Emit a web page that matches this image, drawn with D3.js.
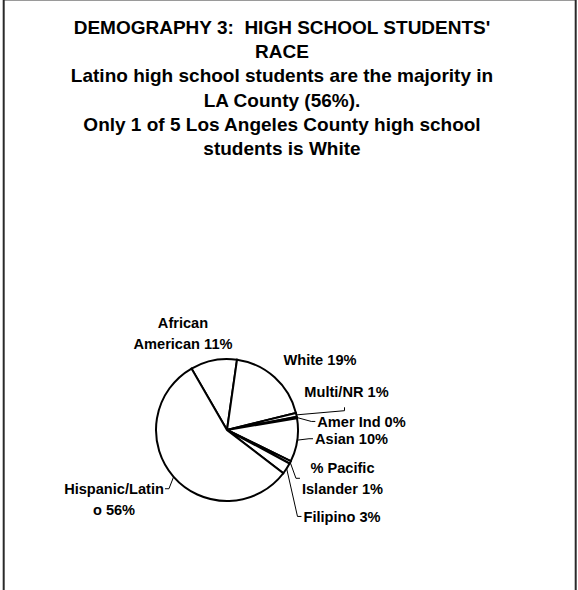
<!DOCTYPE html>
<html>
<head>
<meta charset="utf-8">
<script src="https://cdn.jsdelivr.net/npm/d3@7"></script>
<style>
  html, body { margin: 0; padding: 0; background: #fff; }
  svg { display: block; }
  text { font-family: "Liberation Sans", Arial, Helvetica, sans-serif; font-weight: bold; fill: #000; white-space: pre; }
</style>
</head>
<body>
<svg id="chart" width="578" height="590"></svg>
<script>
// ---- data ----
const titleLines = [
  "DEMOGRAPHY 3:  HIGH SCHOOL STUDENTS'",
  "RACE",
  "Latino high school students are the majority in",
  "LA County (56%).",
  "Only 1 of 5 Los Angeles County high school",
  "students is White"
];
const categories = ["African American", "White", "Multi/NR", "Amer Ind", "Asian",
                    "% Pacific Islander", "Filipino", "Hispanic/Latino"];
const values = [10.6, 18.9, 0.9, 0.3, 9.9, 0.6, 2.6, 56.3];
const labelLines = [
  ["African", "American 11%"],
  ["White 19%"],
  ["Multi/NR 1%"],
  ["Amer Ind 0%"],
  ["Asian 10%"],
  ["% Pacific", "Islander 1%"],
  ["Filipino 3%"],
  ["Hispanic/Latin", "o 56%"]
];

// ---- layout ----
const W = 578, H = 590;
const cx = 227, cy = 430, R = 71;
const firstSliceAngle = -30; // degrees, clockwise from 12 o'clock
const labelPos = [
  { x: 183,   y: 328,   leader: "none" },
  { x: 320,   y: 365,   leader: "none" },
  { x: 346.5, y: 397.3, leader: "below" },
  { x: 361.5, y: 426.7, leader: "left" },
  { x: 351.5, y: 444,   leader: "left" },
  { x: 342.5, y: 473.3, leader: "left" },
  { x: 342,   y: 521.7, leader: "left" },
  { x: 114,   y: 494,   leader: "right" }
];
const labelSize = 14.6, labelLH = 20.5;

const svg = d3.select("#chart");

// frame
svg.append("line").attr("x1", 3).attr("x2", 576).attr("y1", 0.5).attr("y2", 0.5)
  .attr("stroke", "#9a9a9a").attr("stroke-width", 1);
svg.append("line").attr("x1", 3.7).attr("x2", 3.7).attr("y1", 0).attr("y2", H)
  .attr("stroke", "#2a2a2a").attr("stroke-width", 2);
svg.append("line").attr("x1", 575.7).attr("x2", 575.7).attr("y1", 0).attr("y2", H)
  .attr("stroke", "#2a2a2a").attr("stroke-width", 2);

// title
const title = svg.append("text").attr("text-anchor", "middle")
  .attr("xml:space", "preserve")
  .style("font-size", "19px");
title.selectAll("tspan").data(titleLines).join("tspan")
  .attr("x", 282).attr("y", (d, i) => 34 + i * 24.2)
  .text(d => d);

// pie
const data = categories.map((c, i) => ({ name: c, value: values[i], lines: labelLines[i], pos: labelPos[i] }));
const rad = a => a * Math.PI / 180;
const pie = d3.pie().sort(null).value(d => d.value)
  .startAngle(rad(firstSliceAngle)).endAngle(rad(firstSliceAngle + 360));
const arcs = pie(data);
const arc = d3.arc().innerRadius(0).outerRadius(R);

const g = svg.append("g").attr("transform", `translate(${cx},${cy})`);
g.selectAll("path").data(arcs).join("path")
  .attr("d", arc)
  .attr("fill", "#fff")
  .attr("stroke", "#000")
  .attr("stroke-width", 2)
  .attr("stroke-linejoin", "miter");

// labels
const labelG = svg.append("g");
arcs.forEach(a => {
  const d = a.data;
  const t = labelG.append("text").attr("text-anchor", "middle")
    .style("font-size", labelSize + "px");
  t.selectAll("tspan").data(d.lines).join("tspan")
    .attr("x", d.pos.x).attr("y", (l, i) => d.pos.y + i * labelLH)
    .text(l => l);
  if (d.pos.leader === "none") return;
  const bb = t.node().getBBox();
  const mid = (a.startAngle + a.endAngle) / 2;
  const sx = cx + R * Math.sin(mid), sy = cy - R * Math.cos(mid);
  const capTop = d.pos.y - labelSize * 0.72;
  const blockBottom = d.pos.y + (d.lines.length - 1) * labelLH;
  let pts;
  if (d.pos.leader === "left") {
    const ey = (capTop + blockBottom) / 2;
    const ex = bb.x - 2;
    pts = [[sx, sy], [ex - 4, ey], [ex, ey]];
  } else if (d.pos.leader === "right") {
    const ey = capTop + labelSize * 0.36;
    const ex = bb.x + bb.width + 1;
    pts = [[sx, sy], [ex + 4, ey], [ex, ey]];
  } else {
    const ex = d.pos.x - 2;
    pts = [[sx, sy], [ex, d.pos.y + 13.4], [ex, d.pos.y + 10]];
  }
  labelG.append("path").attr("d", d3.line()(pts))
    .attr("fill", "none").attr("stroke", "#000").attr("stroke-width", 1);
});
</script>
</body>
</html>
